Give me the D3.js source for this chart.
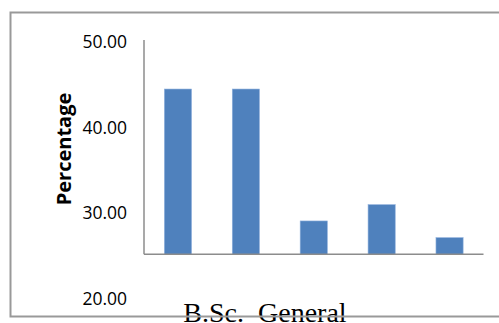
<!DOCTYPE html>
<html>
<head>
<meta charset="utf-8">
<script src="https://cdn.jsdelivr.net/npm/d3@7"></script>
<style>
  body { margin: 0; background: #fff; }
  svg { display: block; }
</style>
</head>
<body>
<div id="chart"></div>
<script>
// bars (no category labels shown)
var categories = ["c1", "c2", "c3", "c4", "c5"];
var percentages = [44.28, 44.28, 28.89, 30.79, 26.94];
var yTicks = [20, 30, 40, 50];
var yTitle = "Percentage";
var xTitle = "B.Sc.  General";

var width = 499, height = 323;
var svg = d3.select("#chart").append("svg")
    .attr("width", width)
    .attr("height", height);

// plot area
var left = 144, right = 483.5;
var y = d3.scaleLinear().domain([25, 50]).range([254.3, 40]);
var x = d3.scaleBand()
    .domain(categories)
    .range([left, right])
    .paddingInner(0.6)
    .paddingOuter(0.3);

// bars
svg.selectAll("rect.bar")
    .data(percentages)
    .enter().append("rect")
    .attr("class", "bar")
    .attr("x", function (d, i) { return x(categories[i]); })
    .attr("width", x.bandwidth())
    .attr("y", function (d) { return y(d); })
    .attr("height", function (d) { return y(25) - y(d); })
    .attr("fill", "#4f81bd")
    .attr("stroke", "#8fb0dc")
    .attr("stroke-width", 0.6);

// y axis - labels only, line drawn separately
var yAxis = d3.axisLeft(y)
    .tickValues(yTicks)
    .tickFormat(d3.format(".2f"))
    .tickSize(0)
    .tickPadding(17);

var ga = svg.append("g")
    .attr("transform", "translate(" + left + ",0)")
    .call(yAxis);
ga.select(".domain").remove();
ga.selectAll("text")
    .attr("dy", "0.42em")
    .style("font-family", "'Open Sans', Arial, sans-serif")
    .style("font-size", "17.5px")
    .attr("fill", "#000");

// axis lines
svg.append("line")
    .attr("x1", left).attr("x2", left)
    .attr("y1", y(50)).attr("y2", y(25))
    .attr("stroke", "#8c8c8c").attr("stroke-width", 1.5);
svg.append("line")
    .attr("x1", left).attr("x2", right)
    .attr("y1", y(25)).attr("y2", y(25))
    .attr("stroke", "#8c8c8c").attr("stroke-width", 1.5);

// titles
svg.append("text")
    .attr("transform", "translate(71,149) rotate(-90)")
    .attr("text-anchor", "middle")
    .style("font-family", "'Open Sans', Arial, sans-serif")
    .style("font-weight", "bold")
    .style("font-size", "20px")
    .text(yTitle);

svg.append("text")
    .attr("x", 265)
    .attr("y", 322)
    .attr("text-anchor", "middle")
    .style("font-family", "'Liberation Serif', 'Times New Roman', serif")
    .style("font-size", "28px")
    .style("white-space", "pre")
    .text(xTitle);

// outer frame, drawn last so it runs over the bottom title
svg.append("path")
    .attr("d", "M" + (width + 5) + ",12.5 H10.5 V316.5 H" + (width + 5))
    .attr("fill", "none")
    .attr("stroke", "#999")
    .attr("stroke-width", 2);
</script>
</body>
</html>
